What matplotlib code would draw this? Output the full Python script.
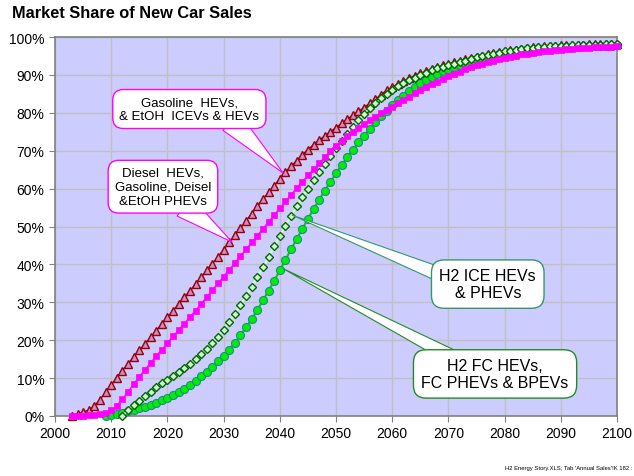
import numpy as np
import matplotlib
matplotlib.use('Agg')
import matplotlib.pyplot as plt
from matplotlib.ticker import FuncFormatter

plt.rcParams['font.family'] = ['Liberation Sans', 'DejaVu Sans']

years = list(range(2003, 2101))

# market share (%) per year, 2003..2100
gasoline_hev = [
    0.0, 0.5, 1.0, 1.6, 2.6, 4.3, 6.3,                              # 2003-2009
    8.2, 10.1, 12.0, 13.8, 15.6, 17.3, 19.0, 20.8, 22.5, 24.3,      # 2010s
    26.0, 27.8, 29.5, 31.3, 33.0, 34.8, 36.6, 38.4, 40.2, 42.0,     # 2020s
    43.9, 45.8, 47.7, 49.6, 51.5, 53.4, 55.3, 57.2, 59.0, 60.8,     # 2030s
    62.6, 64.3, 65.9, 67.4, 68.9, 70.3, 71.6, 72.8, 73.9, 75.0,     # 2040s
    76.1, 77.2, 78.3, 79.4, 80.4, 81.4, 82.5, 83.6, 84.8, 85.9,     # 2050s
    86.8, 87.6, 88.4, 89.1, 89.8, 90.4, 91.0, 91.5, 92.0, 92.5,     # 2060s
    92.9, 93.3, 93.7, 94.1, 94.5, 94.8, 95.1, 95.4, 95.7, 96.0,     # 2070s
    96.3, 96.5, 96.7, 96.9, 97.1, 97.3, 97.4, 97.5, 97.6, 97.7,     # 2080s
    97.8, 97.85, 97.9, 97.95, 98.0, 98.05, 98.1, 98.1, 98.15, 98.2,  # 2090s
    98.2,                                                           # 2100
]

diesel_phev = [
    0.0, 0.0, 0.1, 0.2, 0.3, 0.5, 0.9,
    1.5, 2.7, 4.5, 6.4, 8.4, 10.4, 12.2, 14.0, 15.8, 17.5,
    19.3, 21.0, 22.7, 24.4, 26.1, 27.8, 29.6, 31.4, 33.2, 35.0,
    36.8, 38.6, 40.4, 42.2, 44.0, 45.8, 47.6, 49.4, 51.2, 53.0,
    54.8, 56.6, 58.4, 60.1, 61.8, 63.5, 65.1, 66.7, 68.3, 69.8,
    71.3, 72.6, 73.8, 74.9, 76.0, 77.0, 78.0, 79.0, 79.9, 80.8,
    81.6, 82.5, 83.4, 84.3, 85.1, 85.9, 86.7, 87.5, 88.2, 88.9,
    89.6, 90.3, 90.9, 91.5, 92.0, 92.5, 93.0, 93.4, 93.8, 94.2,
    94.5, 94.8, 95.1, 95.4, 95.6, 95.8, 96.0, 96.2, 96.4, 96.5,
    96.6, 96.75, 96.9, 97.0, 97.1, 97.2, 97.3, 97.35, 97.4, 97.45,
    97.5,
]

h2_ice = [
    None, None, None, None, None, None, None,
    None, None, 0.0, 1.5, 2.8, 4.0, 5.2, 6.4, 7.6, 8.6,
    9.6, 10.6, 11.6, 12.7, 13.8, 15.0, 16.3, 17.7, 19.2, 20.9,
    22.8, 24.9, 27.0, 29.2, 31.6, 34.0, 36.6, 39.2, 42.0, 44.8,
    47.5, 50.2, 52.8, 55.3, 57.7, 60.0, 62.3, 64.5, 66.6, 68.6,
    70.6, 72.6, 74.5, 76.3, 78.1, 79.8, 81.2, 82.5, 83.8, 85.0,
    86.1, 87.0, 87.8, 88.6, 89.3, 90.0, 90.6, 91.2, 91.7, 92.2,
    92.6, 93.0, 93.4, 93.8, 94.2, 94.6, 95.0, 95.3, 95.6, 95.9,
    96.2, 96.4, 96.6, 96.8, 97.0, 97.2, 97.3, 97.4, 97.5, 97.6,
    97.7, 97.75, 97.8, 97.85, 97.9, 97.95, 98.0, 98.0, 98.05, 98.1,
    98.1,
]

h2_fc = [
    None, None, None, None, None, None, 0.0,
    0.2, 0.5, 0.9, 1.3, 1.7, 2.1, 2.5, 3.0, 3.5, 4.1,
    4.8, 5.5, 6.3, 7.2, 8.2, 9.3, 10.5, 11.7, 13.0, 14.4,
    15.9, 17.5, 19.3, 21.3, 23.4, 25.6, 28.0, 30.5, 33.1, 35.7,
    38.4, 41.2, 44.0, 46.7, 49.4, 52.0, 54.6, 57.1, 59.5, 61.8,
    64.0, 66.2, 68.3, 70.3, 72.2, 74.0, 75.8, 77.5, 79.1, 80.6,
    82.0, 83.3, 84.5, 85.7, 86.8, 87.8, 88.7, 89.5, 90.3, 91.0,
    91.6, 92.2, 92.7, 93.2, 93.6, 94.0, 94.4, 94.8, 95.1, 95.4,
    95.7, 95.9, 96.1, 96.3, 96.5, 96.7, 96.8, 96.9, 97.0, 97.1,
    97.2, 97.3, 97.4, 97.45, 97.5, 97.55, 97.6, 97.65, 97.7, 97.75,
    97.8,
]

xticks = list(range(2000, 2101, 10))
yticks = list(range(0, 101, 10))

fig = plt.figure(figsize=(6.34, 4.77), dpi=100)
ax = fig.add_axes([0.0868, 0.1258, 0.8864, 0.7945])
ax.set_facecolor('#CCCCFF')

x = np.array(years)
to_arr = lambda v: np.array([np.nan if a is None else a for a in v], dtype=float)

ax.plot(x, to_arr(gasoline_hev), color='#990000', lw=1, marker='^', ms=6,
        mfc='#C88CD0', mec='#990000', mew=1, zorder=3, clip_on=False)
ax.plot(x, to_arr(h2_fc), color='#00CC00', lw=1.5, marker='o', ms=5.8,
        mfc='#00EE00', mec='#1A8C8C', mew=0.8, zorder=4, clip_on=False)
ax.plot(x, to_arr(h2_ice), color='#CCFFCC', lw=1.5, marker='D', ms=4.2,
        mfc='#CCFFCC', mec='#006600', mew=1, zorder=5, clip_on=False)
ax.plot(x, to_arr(diesel_phev), color='#FF00FF', lw=1, marker='s', ms=4.5,
        mfc='#FF00FF', mec='#FF00FF', mew=0.5, zorder=6, clip_on=False)

ax.set_xlim(2000, 2100)
ax.set_ylim(0, 100)
ax.set_xticks(xticks)
ax.set_yticks(yticks)
ax.yaxis.set_major_formatter(FuncFormatter(lambda v, p: f'{v:.0f}%'))
ax.tick_params(labelsize=10, length=4, color='#808080', direction='out')
ax.grid(True, color='#C0C0C0', lw=1)
ax.set_axisbelow(True)
for s in ax.spines.values():
    s.set_color('#808080')
    s.set_linewidth(1.2)

fig.text(0.019, 0.972, 'Market Share of New Car Sales', fontsize=11.8,
         fontweight='bold', va='center', ha='left')

# callouts: wedge starts on the box edge (relpos), box drawn over its base
def callout(txt, xy, xytext, ec, size, relpos, tw):
    ax.annotate(txt, xy=xy, xytext=xytext, textcoords='data', ha='center',
                va='center', fontsize=size, zorder=8,
                bbox=dict(boxstyle='round,pad=0.5,rounding_size=0.8',
                          fc='white', ec=ec, lw=1),
                arrowprops=dict(arrowstyle=f'wedge,tail_width={tw}', fc='white',
                                ec=ec, lw=0.8, relpos=relpos, patchA=None,
                                shrinkA=0, shrinkB=0))

callout('Gasoline  HEVs,\n& EtOH  ICEVs & HEVs', (2040.6, 64.1), (2023.9, 81.0),
        '#FF00FF', 9.5, relpos=(0.8, 0.0), tw=1.8)
callout('Diesel  HEVs,\nGasoline, Deisel\n&EtOH PHEVs', (2031.5, 45.9), (2019.2, 60.5),
        '#FF00FF', 9.5, relpos=(0.72, 0.0), tw=1.8)
callout('H2 ICE HEVs\n& PHEVs', (2042.2, 53.0), (2077.0, 34.8),
        '#339966', 11.5, relpos=(0.0, 0.8), tw=0.9)
callout('H2 FC HEVs,\nFC PHEVs & BPEVs', (2040.7, 38.8), (2078.3, 11.1),
        '#228B22', 11.5, relpos=(0.22, 1.0), tw=0.9)

fig.text(0.797, 0.012, "H2 Energy Story.XLS; Tab 'Annual Sales'!K 182 :", fontsize=4.2,
         ha='left', va='bottom')

fig.savefig('out.png', dpi=100)
